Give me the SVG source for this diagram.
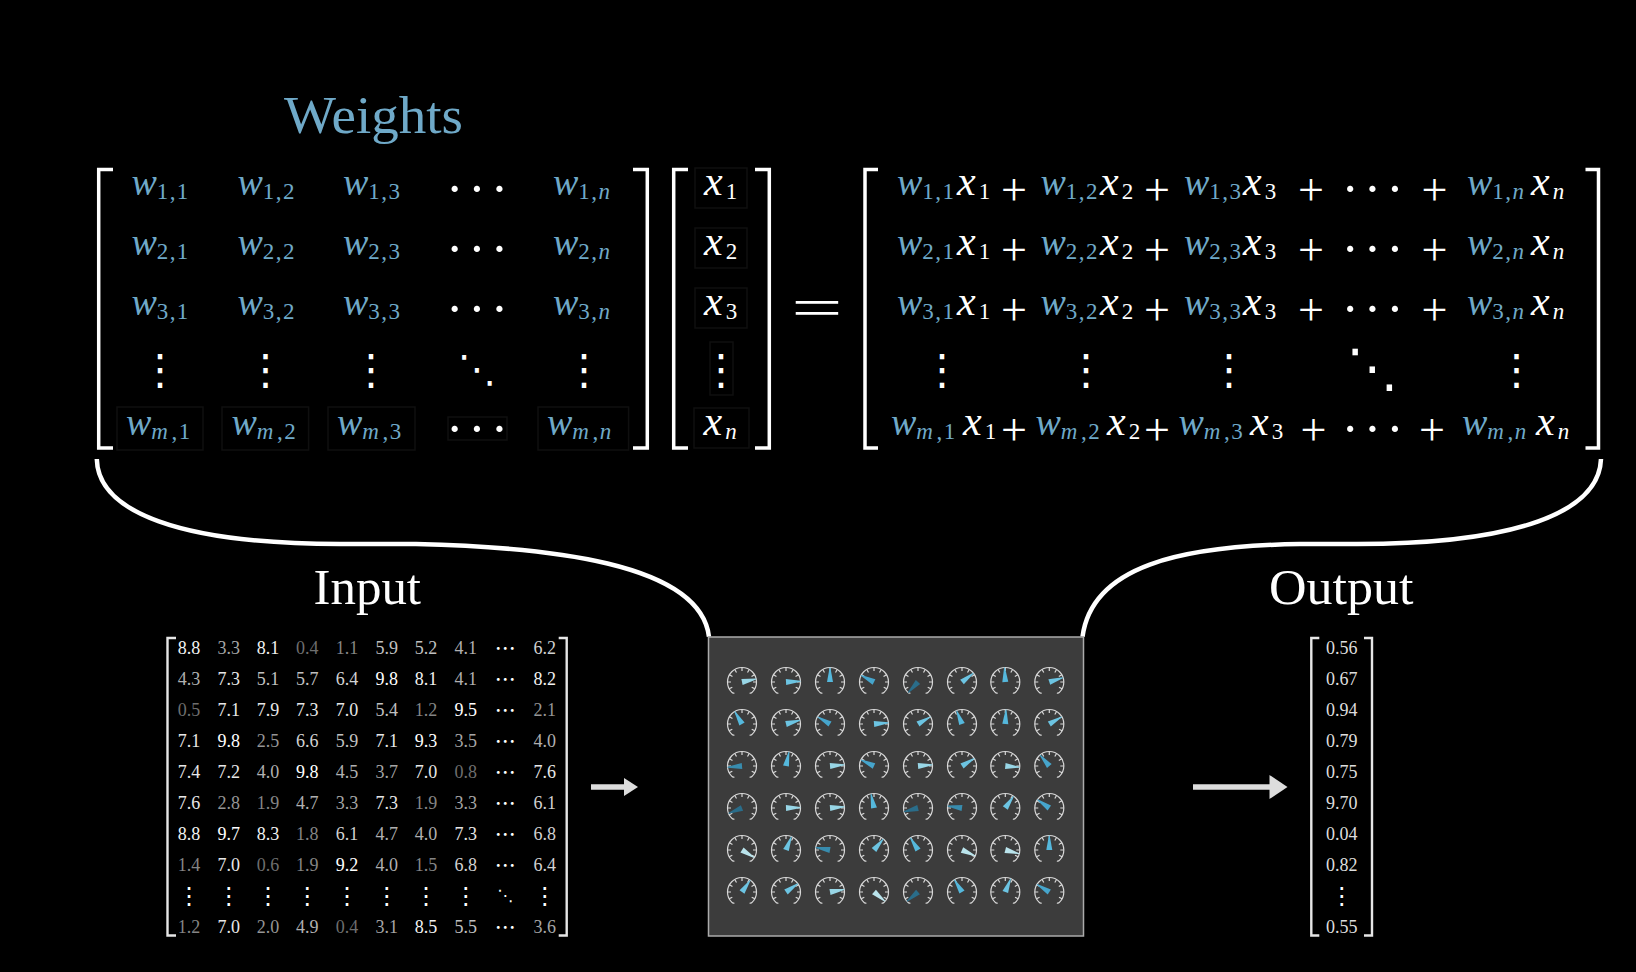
<svg xmlns="http://www.w3.org/2000/svg" width="1636" height="972" viewBox="0 0 1636 972">
<style>
text{font-family:"Liberation Serif","Times New Roman",serif}
.t{font-size:52px}
.t2{font-size:50px}
.b{fill:#6fa9c8}
.wh{fill:#fff}
.m{font-size:38px;font-style:italic;fill:#6fa9c8}
.x{font-size:42px;font-style:italic;fill:#fff}
.s{font-size:23px;font-style:normal;letter-spacing:1.4px}
.i{font-style:italic;letter-spacing:3.5px}
.p{font-size:46px;fill:#fff;text-anchor:middle}
.d{font-family:"Noto Sans CJK SC","DejaVu Sans",sans-serif;fill:#fff;text-anchor:middle}
.d1{font-size:52px;letter-spacing:5px;fill:#fff;text-anchor:middle}
.d2{font-size:42px}
.d3{font-size:21px}
.d4{font-size:24px}
.br{fill:none;stroke:#fff;stroke-width:3.5}
.br2{fill:none;stroke:#e6e6e6;stroke-width:2.4}
.fb{fill:none;stroke:#0f0f0f;stroke-width:1.5}
.cur{fill:none;stroke:#fff;stroke-width:4.5}
.v{font-size:18px;text-anchor:middle}
.g0{fill:#6e6e6e}.g1{fill:#858585}.g2{fill:#959595}.g3{fill:#a6a6a6}.g4{fill:#b0b0b0}.g5{fill:#c0c0c0}.g6{fill:#d2d2d2}.g7{fill:#e8e8e8}.g8{fill:#f2f2f2}.g9{fill:#fff}
.o{fill:#ddd}
.ar{stroke:#ddd;stroke-width:5.5;fill:none}
.ah{fill:#ddd}
.dial{fill:none;stroke:#d8d8d8;stroke-width:1.2}
.n1{fill:#2a6d8a}.n2{fill:#388cae}.n3{fill:#46a5cc}.n4{fill:#55b8dc}.n5{fill:#6cc4e2}.n6{fill:#98d6e6}.n7{fill:#bae4ec}
</style>
<defs>
<g id="dial" class="dial">
<path d="M-7.6 11q-1.5.6-2.7-.8A14.5 14.5 0 1 1 10.3 10.2q-1.2 1.4-2.7.8"/>
<path d="M0-14.5V-11M7.25-12.56L5.5-9.53M12.56-7.25L9.53-5.5M14.5 0H11M12.8 6.8L9.71 5.16M-7.25-12.56L-5.5-9.53M-12.56-7.25L-9.53-5.5M-14.5 0H-11M-12.8 6.8L-9.71 5.16"/>
</g>
<polygon id="nd" points="-3,0 3,0 .4,-14.5 -.4,-14.5"/>
</defs>
<rect width="1636" height="972" fill="#000"/>

<g id="weights-title"><text class="t b" x="284" y="133" textLength="179" lengthAdjust="spacingAndGlyphs">Weights</text></g>

<g id="weight-matrix">
<path class="br" d="M113 169.5H98.7V448H113M633 169.5H647.3V448H633"/>
<path class="fb" d="M117 407H203V450H117ZM222 407H308.6V450H222ZM328 407H415V450H328ZM448 417H507V440H448ZM538 407H628.6V450H538Z"/>
<text class="m" x="131.4" y="195">w<tspan class="s" dy="4">1,1</tspan></text>
<text class="m" x="237.5" y="195">w<tspan class="s" dy="4">1,2</tspan></text>
<text class="m" x="343" y="195">w<tspan class="s" dy="4">1,3</tspan></text>
<text class="d1" x="479.5" y="206">···</text>
<text class="m" x="553" y="195">w<tspan class="s" dy="4">1,<tspan class="i">n</tspan></tspan></text>
<text class="m" x="131.4" y="255">w<tspan class="s" dy="4">2,1</tspan></text>
<text class="m" x="237.5" y="255">w<tspan class="s" dy="4">2,2</tspan></text>
<text class="m" x="343" y="255">w<tspan class="s" dy="4">2,3</tspan></text>
<text class="d1" x="479.5" y="266">···</text>
<text class="m" x="553" y="255">w<tspan class="s" dy="4">2,<tspan class="i">n</tspan></tspan></text>
<text class="m" x="131.4" y="315">w<tspan class="s" dy="4">3,1</tspan></text>
<text class="m" x="237.5" y="315">w<tspan class="s" dy="4">3,2</tspan></text>
<text class="m" x="343" y="315">w<tspan class="s" dy="4">3,3</tspan></text>
<text class="d1" x="479.5" y="326">···</text>
<text class="m" x="553" y="315">w<tspan class="s" dy="4">3,<tspan class="i">n</tspan></tspan></text>
<text class="d d2" x="160" y="383.5">⋮</text>
<text class="d d2" x="265.5" y="383.5">⋮</text>
<text class="d d2" x="371" y="383.5">⋮</text>
<text class="d" font-size="38" x="477" y="382.4">⋱</text>
<text class="d d2" x="584" y="383.5">⋮</text>
<text class="m" x="126" y="435">w<tspan class="s" dy="4"><tspan class="i">m</tspan>,1</tspan></text>
<text class="m" x="231.5" y="435">w<tspan class="s" dy="4"><tspan class="i">m</tspan>,2</tspan></text>
<text class="m" x="337" y="435">w<tspan class="s" dy="4"><tspan class="i">m</tspan>,3</tspan></text>
<text class="d1" x="479.5" y="446">···</text>
<text class="m" x="547" y="435">w<tspan class="s" dy="4"><tspan class="i">m</tspan>,<tspan class="i">n</tspan></tspan></text>
</g>

<g id="x-vector">
<path class="br" d="M688 169.5H673.7V448H688M755 169.5H769.3V448H755"/>
<path class="fb" d="M695 168H747V208H695ZM695 228H747V268H695ZM695 288H747V328H695ZM710 342H733V395H710ZM694 408H749V448H694Z"/>
<text class="x" x="704" y="195">x<tspan class="s" dy="4" dx="3">1</tspan></text>
<text class="x" x="704" y="255">x<tspan class="s" dy="4" dx="3">2</tspan></text>
<text class="x" x="704" y="315">x<tspan class="s" dy="4" dx="3">3</tspan></text>
<text class="d d2" x="721" y="383.5">⋮</text>
<text class="x" x="703.5" y="435">x<tspan class="s i" dy="4" dx="3">n</tspan></text>
</g>

<g id="equals"><text class="wh" transform="translate(817 326) scale(1 .6)" font-size="91" text-anchor="middle">=</text></g>

<g id="result-matrix">
<path class="br" d="M878 169.5H865V448H878M1585.5 169.5H1598.5V448H1585.5"/>
<text class="m" x="897" y="195">w<tspan class="s" dy="4">1,1</tspan></text><text class="x" x="957" y="195">x<tspan class="s" dy="4" dx="3">1</tspan></text>
<text class="p" x="1014" y="205">+</text>
<text class="m" x="1040.5" y="195">w<tspan class="s" dy="4">1,2</tspan></text><text class="x" x="1100" y="195">x<tspan class="s" dy="4" dx="3">2</tspan></text>
<text class="p" x="1157" y="205">+</text>
<text class="m" x="1184" y="195">w<tspan class="s" dy="4">1,3</tspan></text><text class="x" x="1243" y="195">x<tspan class="s" dy="4" dx="3">3</tspan></text>
<text class="p" x="1311" y="205">+</text>
<text class="d1" x="1375" y="206">···</text>
<text class="p" x="1434.5" y="205">+</text>
<text class="m" x="1467" y="195">w<tspan class="s" dy="4">1,<tspan class="i">n</tspan></tspan></text><text class="x" x="1531" y="195">x<tspan class="s i" dy="4" dx="3">n</tspan></text>

<text class="m" x="897" y="255">w<tspan class="s" dy="4">2,1</tspan></text><text class="x" x="957" y="255">x<tspan class="s" dy="4" dx="3">1</tspan></text>
<text class="p" x="1014" y="265">+</text>
<text class="m" x="1040.5" y="255">w<tspan class="s" dy="4">2,2</tspan></text><text class="x" x="1100" y="255">x<tspan class="s" dy="4" dx="3">2</tspan></text>
<text class="p" x="1157" y="265">+</text>
<text class="m" x="1184" y="255">w<tspan class="s" dy="4">2,3</tspan></text><text class="x" x="1243" y="255">x<tspan class="s" dy="4" dx="3">3</tspan></text>
<text class="p" x="1311" y="265">+</text>
<text class="d1" x="1375" y="266">···</text>
<text class="p" x="1434.5" y="265">+</text>
<text class="m" x="1467" y="255">w<tspan class="s" dy="4">2,<tspan class="i">n</tspan></tspan></text><text class="x" x="1531" y="255">x<tspan class="s i" dy="4" dx="3">n</tspan></text>

<text class="m" x="897" y="315">w<tspan class="s" dy="4">3,1</tspan></text><text class="x" x="957" y="315">x<tspan class="s" dy="4" dx="3">1</tspan></text>
<text class="p" x="1014" y="325">+</text>
<text class="m" x="1040.5" y="315">w<tspan class="s" dy="4">3,2</tspan></text><text class="x" x="1100" y="315">x<tspan class="s" dy="4" dx="3">2</tspan></text>
<text class="p" x="1157" y="325">+</text>
<text class="m" x="1184" y="315">w<tspan class="s" dy="4">3,3</tspan></text><text class="x" x="1243" y="315">x<tspan class="s" dy="4" dx="3">3</tspan></text>
<text class="p" x="1311" y="325">+</text>
<text class="d1" x="1375" y="326">···</text>
<text class="p" x="1434.5" y="325">+</text>
<text class="m" x="1467" y="315">w<tspan class="s" dy="4">3,<tspan class="i">n</tspan></tspan></text><text class="x" x="1531" y="315">x<tspan class="s i" dy="4" dx="3">n</tspan></text>

<text class="d d2" x="942" y="383.5">⋮</text>
<text class="d d2" x="1086" y="383.5">⋮</text>
<text class="d d2" x="1229" y="383.5">⋮</text>
<text class="d" font-size="52" x="1372.5" y="386">⋱</text>
<text class="d d2" x="1516.5" y="383.5">⋮</text>

<text class="m" x="891" y="435">w<tspan class="s" dy="4"><tspan class="i">m</tspan>,1</tspan></text><text class="x" x="963" y="435">x<tspan class="s" dy="4" dx="3">1</tspan></text>
<text class="p" x="1014" y="445">+</text>
<text class="m" x="1035.5" y="435">w<tspan class="s" dy="4"><tspan class="i">m</tspan>,2</tspan></text><text class="x" x="1107" y="435">x<tspan class="s" dy="4" dx="3">2</tspan></text>
<text class="p" x="1157" y="445">+</text>
<text class="m" x="1178.5" y="435">w<tspan class="s" dy="4"><tspan class="i">m</tspan>,3</tspan></text><text class="x" x="1250" y="435">x<tspan class="s" dy="4" dx="3">3</tspan></text>
<text class="p" x="1313.5" y="445">+</text>
<text class="d1" x="1375" y="446">···</text>
<text class="p" x="1432" y="445">+</text>
<text class="m" x="1462" y="435">w<tspan class="s" dy="4"><tspan class="i">m</tspan>,<tspan class="i">n</tspan></tspan></text><text class="x" x="1536" y="435">x<tspan class="s i" dy="4" dx="3">n</tspan></text>
</g>

<g id="connectors">
<path class="cur" d="M96.8 459C98 512 180 544 340 544L416 544C545 547 700 562 709 636.7"/>
<path class="cur" d="M1601 459C1599 512 1517 544 1357 544L1300 544C1180 546 1092 566 1082.5 636.7"/>
<path class="ar" d="M591 787H625"/><polygon class="ah" points="624,778 638,787 624,796"/>
<path class="ar" d="M1193 787H1270"/><polygon class="ah" points="1269.5,775 1287.5,787 1269.5,799"/>
</g>

<g id="input-title"><text class="t2 wh" x="313.5" y="604" textLength="107.5" lengthAdjust="spacingAndGlyphs">Input</text></g>
<g id="output-title"><text class="t2 wh" x="1269" y="604" textLength="144.5" lengthAdjust="spacingAndGlyphs">Output</text></g>

<g id="input-matrix">
<path class="br2" d="M176 638H167.5V935.5H176M558.7 638H566.7V935.5H558.7"/>
<text class="v g8" x="189" y="654">8.8</text><text class="v g3" x="228.7" y="654">3.3</text><text class="v g8" x="268" y="654">8.1</text><text class="v g0" x="307.3" y="654">0.4</text><text class="v g1" x="347" y="654">1.1</text><text class="v g5" x="386.7" y="654">5.9</text><text class="v g5" x="426" y="654">5.2</text><text class="v g4" x="465.7" y="654">4.1</text><text class="d d3" x="505.3" y="656.3">⋯</text><text class="v g6" x="544.7" y="654">6.2</text>
<text class="v g4" x="189" y="685">4.3</text><text class="v g7" x="228.7" y="685">7.3</text><text class="v g5" x="268" y="685">5.1</text><text class="v g5" x="307.3" y="685">5.7</text><text class="v g6" x="347" y="685">6.4</text><text class="v g9" x="386.7" y="685">9.8</text><text class="v g8" x="426" y="685">8.1</text><text class="v g4" x="465.7" y="685">4.1</text><text class="d d3" x="505.3" y="687.3">⋯</text><text class="v g8" x="544.7" y="685">8.2</text>
<text class="v g0" x="189" y="716">0.5</text><text class="v g7" x="228.7" y="716">7.1</text><text class="v g7" x="268" y="716">7.9</text><text class="v g7" x="307.3" y="716">7.3</text><text class="v g7" x="347" y="716">7.0</text><text class="v g5" x="386.7" y="716">5.4</text><text class="v g1" x="426" y="716">1.2</text><text class="v g9" x="465.7" y="716">9.5</text><text class="d d3" x="505.3" y="718.3">⋯</text><text class="v g2" x="544.7" y="716">2.1</text>
<text class="v g7" x="189" y="747">7.1</text><text class="v g9" x="228.7" y="747">9.8</text><text class="v g2" x="268" y="747">2.5</text><text class="v g6" x="307.3" y="747">6.6</text><text class="v g5" x="347" y="747">5.9</text><text class="v g7" x="386.7" y="747">7.1</text><text class="v g9" x="426" y="747">9.3</text><text class="v g3" x="465.7" y="747">3.5</text><text class="d d3" x="505.3" y="749.3">⋯</text><text class="v g4" x="544.7" y="747">4.0</text>
<text class="v g7" x="189" y="778">7.4</text><text class="v g7" x="228.7" y="778">7.2</text><text class="v g4" x="268" y="778">4.0</text><text class="v g9" x="307.3" y="778">9.8</text><text class="v g4" x="347" y="778">4.5</text><text class="v g3" x="386.7" y="778">3.7</text><text class="v g7" x="426" y="778">7.0</text><text class="v g0" x="465.7" y="778">0.8</text><text class="d d3" x="505.3" y="780.3">⋯</text><text class="v g7" x="544.7" y="778">7.6</text>
<text class="v g7" x="189" y="809">7.6</text><text class="v g2" x="228.7" y="809">2.8</text><text class="v g1" x="268" y="809">1.9</text><text class="v g4" x="307.3" y="809">4.7</text><text class="v g3" x="347" y="809">3.3</text><text class="v g7" x="386.7" y="809">7.3</text><text class="v g1" x="426" y="809">1.9</text><text class="v g3" x="465.7" y="809">3.3</text><text class="d d3" x="505.3" y="811.3">⋯</text><text class="v g6" x="544.7" y="809">6.1</text>
<text class="v g8" x="189" y="840">8.8</text><text class="v g9" x="228.7" y="840">9.7</text><text class="v g8" x="268" y="840">8.3</text><text class="v g1" x="307.3" y="840">1.8</text><text class="v g6" x="347" y="840">6.1</text><text class="v g4" x="386.7" y="840">4.7</text><text class="v g4" x="426" y="840">4.0</text><text class="v g7" x="465.7" y="840">7.3</text><text class="d d3" x="505.3" y="842.3">⋯</text><text class="v g6" x="544.7" y="840">6.8</text>
<text class="v g1" x="189" y="871">1.4</text><text class="v g7" x="228.7" y="871">7.0</text><text class="v g0" x="268" y="871">0.6</text><text class="v g1" x="307.3" y="871">1.9</text><text class="v g9" x="347" y="871">9.2</text><text class="v g4" x="386.7" y="871">4.0</text><text class="v g1" x="426" y="871">1.5</text><text class="v g6" x="465.7" y="871">6.8</text><text class="d d3" x="505.3" y="873.3">⋯</text><text class="v g6" x="544.7" y="871">6.4</text>
<text class="d d4" x="189" y="904.2">⋮</text><text class="d d4" x="228.7" y="904.2">⋮</text><text class="d d4" x="268" y="904.2">⋮</text><text class="d d4" x="307.3" y="904.2">⋮</text><text class="d d4" x="347" y="904.2">⋮</text><text class="d d4" x="386.7" y="904.2">⋮</text><text class="d d4" x="426" y="904.2">⋮</text><text class="d d4" x="465.7" y="904.2">⋮</text><text class="d" font-size="16" x="505.3" y="901.3">⋱</text><text class="d d4" x="544.7" y="904.2">⋮</text>
<text class="v g1" x="189" y="933">1.2</text><text class="v g7" x="228.7" y="933">7.0</text><text class="v g2" x="268" y="933">2.0</text><text class="v g4" x="307.3" y="933">4.9</text><text class="v g0" x="347" y="933">0.4</text><text class="v g3" x="386.7" y="933">3.1</text><text class="v g8" x="426" y="933">8.5</text><text class="v g5" x="465.7" y="933">5.5</text><text class="d d3" x="505.3" y="935">⋯</text><text class="v g3" x="544.7" y="933">3.6</text>
</g>

<g id="output-vector">
<path class="br2" d="M1319.3 638H1311.3V935.5H1319.3M1364 638H1372V935.5H1364"/>
<text class="v o" x="1341.7" y="654">0.56</text>
<text class="v o" x="1341.7" y="685">0.67</text>
<text class="v o" x="1341.7" y="716">0.94</text>
<text class="v o" x="1341.7" y="747">0.79</text>
<text class="v o" x="1341.7" y="778">0.75</text>
<text class="v o" x="1341.7" y="809">9.70</text>
<text class="v o" x="1341.7" y="840">0.04</text>
<text class="v o" x="1341.7" y="871">0.82</text>
<text class="d d4" x="1341.7" y="904.2">⋮</text>
<text class="v o" x="1341.7" y="933">0.55</text>
</g>

<g id="gauge-panel">
<rect x="708.5" y="637" width="375" height="299" fill="#3c3c3c" stroke="#ababab" stroke-width="1.5"/>
<g id="g11" transform="translate(742 682)"><use href="#dial"/><use href="#nd" class="n6" transform="rotate(78)"/></g>
<g id="g12" transform="translate(786 682)"><use href="#dial"/><use href="#nd" class="n5" transform="rotate(87)"/></g>
<g id="g13" transform="translate(830 682)"><use href="#dial"/><use href="#nd" class="n4" transform="rotate(0)"/></g>
<g id="g14" transform="translate(874 682)"><use href="#dial"/><use href="#nd" class="n3" transform="rotate(-63)"/></g>
<g id="g15" transform="translate(918 682)"><use href="#dial"/><use href="#nd" class="n1" transform="rotate(-137)"/></g>
<g id="g16" transform="translate(962 682)"><use href="#dial"/><use href="#nd" class="n5" transform="rotate(52)"/></g>
<g id="g17" transform="translate(1005.3 682)"><use href="#dial"/><use href="#nd" class="n4" transform="rotate(-3)"/></g>
<g id="g18" transform="translate(1049.3 682)"><use href="#dial"/><use href="#nd" class="n5" transform="rotate(72)"/></g>
<g id="g21" transform="translate(742 724)"><use href="#dial"/><use href="#nd" class="n4" transform="rotate(-30)"/></g>
<g id="g22" transform="translate(786 724)"><use href="#dial"/><use href="#nd" class="n5" transform="rotate(75)"/></g>
<g id="g23" transform="translate(830 724)"><use href="#dial"/><use href="#nd" class="n3" transform="rotate(-60)"/></g>
<g id="g24" transform="translate(874 724)"><use href="#dial"/><use href="#nd" class="n5" transform="rotate(85)"/></g>
<g id="g25" transform="translate(918 724)"><use href="#dial"/><use href="#nd" class="n5" transform="rotate(60)"/></g>
<g id="g26" transform="translate(962 724)"><use href="#dial"/><use href="#nd" class="n4" transform="rotate(-22)"/></g>
<g id="g27" transform="translate(1005.3 724)"><use href="#dial"/><use href="#nd" class="n4" transform="rotate(3)"/></g>
<g id="g28" transform="translate(1049.3 724)"><use href="#dial"/><use href="#nd" class="n5" transform="rotate(60)"/></g>
<g id="g31" transform="translate(742 766)"><use href="#dial"/><use href="#nd" class="n2" transform="rotate(-95)"/></g>
<g id="g32" transform="translate(786 766)"><use href="#dial"/><use href="#nd" class="n4" transform="rotate(12)"/></g>
<g id="g33" transform="translate(830 766)"><use href="#dial"/><use href="#nd" class="n6" transform="rotate(85)"/></g>
<g id="g34" transform="translate(874 766)"><use href="#dial"/><use href="#nd" class="n3" transform="rotate(-65)"/></g>
<g id="g35" transform="translate(918 766)"><use href="#dial"/><use href="#nd" class="n6" transform="rotate(85)"/></g>
<g id="g36" transform="translate(962 766)"><use href="#dial"/><use href="#nd" class="n5" transform="rotate(58)"/></g>
<g id="g37" transform="translate(1005.3 766)"><use href="#dial"/><use href="#nd" class="n6" transform="rotate(95)"/></g>
<g id="g38" transform="translate(1049.3 766)"><use href="#dial"/><use href="#nd" class="n3" transform="rotate(-40)"/></g>
<g id="g41" transform="translate(742 808)"><use href="#dial"/><use href="#nd" class="n1" transform="rotate(-112)"/></g>
<g id="g42" transform="translate(786 808)"><use href="#dial"/><use href="#nd" class="n6" transform="rotate(88)"/></g>
<g id="g43" transform="translate(830 808)"><use href="#dial"/><use href="#nd" class="n6" transform="rotate(85)"/></g>
<g id="g44" transform="translate(874 808)"><use href="#dial"/><use href="#nd" class="n4" transform="rotate(-12)"/></g>
<g id="g45" transform="translate(918 808)"><use href="#dial"/><use href="#nd" class="n1" transform="rotate(-105)"/></g>
<g id="g46" transform="translate(962 808)"><use href="#dial"/><use href="#nd" class="n2" transform="rotate(-82)"/></g>
<g id="g47" transform="translate(1005.3 808)"><use href="#dial"/><use href="#nd" class="n5" transform="rotate(35)"/></g>
<g id="g48" transform="translate(1049.3 808)"><use href="#dial"/><use href="#nd" class="n3" transform="rotate(-55)"/></g>
<g id="g51" transform="translate(742 850)"><use href="#dial"/><use href="#nd" class="n7" transform="rotate(122)"/></g>
<g id="g52" transform="translate(786 850)"><use href="#dial"/><use href="#nd" class="n5" transform="rotate(22)"/></g>
<g id="g53" transform="translate(830 850)"><use href="#dial"/><use href="#nd" class="n2" transform="rotate(-80)"/></g>
<g id="g54" transform="translate(874 850)"><use href="#dial"/><use href="#nd" class="n5" transform="rotate(40)"/></g>
<g id="g55" transform="translate(918 850)"><use href="#dial"/><use href="#nd" class="n4" transform="rotate(-32)"/></g>
<g id="g56" transform="translate(962 850)"><use href="#dial"/><use href="#nd" class="n7" transform="rotate(114)"/></g>
<g id="g57" transform="translate(1005.3 850)"><use href="#dial"/><use href="#nd" class="n7" transform="rotate(105)"/></g>
<g id="g58" transform="translate(1049.3 850)"><use href="#dial"/><use href="#nd" class="n4" transform="rotate(0)"/></g>
<g id="g61" transform="translate(742 892)"><use href="#dial"/><use href="#nd" class="n5" transform="rotate(35)"/></g>
<g id="g62" transform="translate(786 892)"><use href="#dial"/><use href="#nd" class="n5" transform="rotate(55)"/></g>
<g id="g63" transform="translate(830 892)"><use href="#dial"/><use href="#nd" class="n6" transform="rotate(80)"/></g>
<g id="g64" transform="translate(874 892)"><use href="#dial"/><use href="#nd" class="n7" transform="rotate(130)"/></g>
<g id="g65" transform="translate(918 892)"><use href="#dial"/><use href="#nd" class="n1" transform="rotate(-130)"/></g>
<g id="g66" transform="translate(962 892)"><use href="#dial"/><use href="#nd" class="n4" transform="rotate(-32)"/></g>
<g id="g67" transform="translate(1005.3 892)"><use href="#dial"/><use href="#nd" class="n5" transform="rotate(22)"/></g>
<g id="g68" transform="translate(1049.3 892)"><use href="#dial"/><use href="#nd" class="n3" transform="rotate(-58)"/></g>
</g>
</svg>
